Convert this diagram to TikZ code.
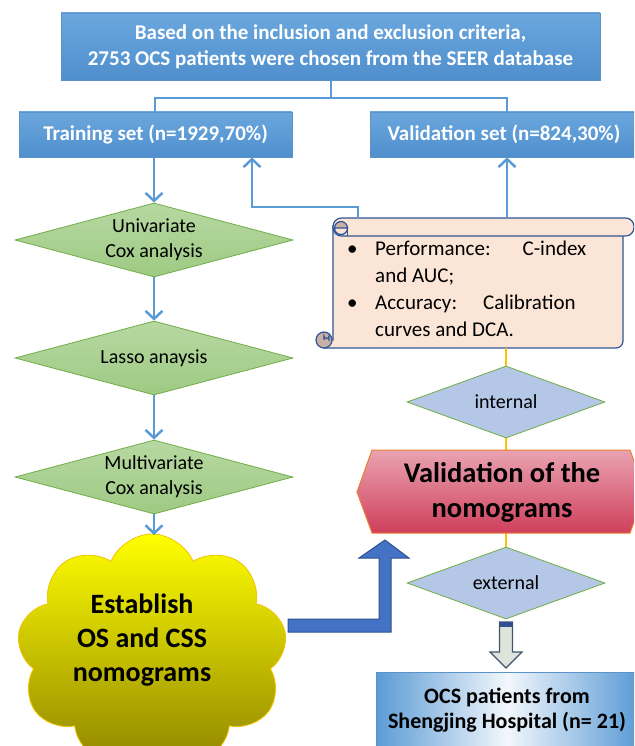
\documentclass[tikz,border=0pt]{standalone}
\usepackage{fontspec}
\setmainfont{Carlito}
\usetikzlibrary{shapes.geometric,shapes.symbols,arrows.meta,calc}
\definecolor{blueT}{HTML}{6BA7DE}
\definecolor{blueB}{HTML}{4F8FCD}
\definecolor{boxedge}{HTML}{5B93C9}
\definecolor{lineblue}{HTML}{5B9BD5}
\definecolor{gT}{HTML}{B7D8A2}
\definecolor{gB}{HTML}{9ECA83}
\definecolor{gborder}{HTML}{70AD47}
\definecolor{peach}{HTML}{FBE5D6}
\definecolor{scrolledge}{HTML}{2F5597}
\definecolor{curl}{HTML}{C8B0A2}
\definecolor{ldiam}{HTML}{B4C7E7}
\definecolor{orangeline}{HTML}{FFC000}
\definecolor{hexT}{HTML}{E9A3B0}
\definecolor{hexB}{HTML}{CF3F5C}
\definecolor{hexedge}{HTML}{ED7D31}
\definecolor{cloudT}{HTML}{FFFF00}
\definecolor{cloudB}{HTML}{8F8400}
\definecolor{cloudedge}{HTML}{F2C200}
\definecolor{bigarrow}{HTML}{4472C4}
\definecolor{bigarrowedge}{HTML}{2F528F}
\definecolor{hollowfill}{HTML}{DCE4DC}
\definecolor{hollowedge}{HTML}{44546A}
\definecolor{botmid}{HTML}{F2F7FC}
\tikzset{
  bluebox/.style={draw=boxedge, line width=0.8pt, top color=blueT, bottom color=blueB,
    text=white, font=\bfseries\fontsize{21}{26}\selectfont, align=center, inner sep=0},
  conn/.style={draw=lineblue, line width=2.5pt},
  tipv/.style={-{Straight Barb[length=8pt,width=17pt]}},
  gdiam/.style={diamond, aspect=3.76, draw=gborder, line width=0.8pt, top color=gT, bottom color=gB,
    minimum width=278, minimum height=74, inner sep=0, align=center,
    font=\fontsize{20}{25}\selectfont},
  bdiam/.style={diamond, aspect=2.75, draw=gborder, line width=0.8pt, fill=ldiam,
    minimum width=198, minimum height=72, inner sep=0, align=center,
    font=\fontsize{20}{25}\selectfont},
  oline/.style={draw=orangeline, line width=2.5pt},
  scrollline/.style={draw=scrolledge, line width=1.2pt},
  scrolltext/.style={anchor=base west, inner sep=0, font=\fontsize{21}{27}\selectfont},
}
\begin{document}
\begin{tikzpicture}[x=1pt,y=-1pt]
\useasboundingbox (0,0) rectangle (634,746);
\clip (0,0) rectangle (634,746);

% top boxes
\node[bluebox, minimum width=539, minimum height=67] (top) at (330.5,46.5)
  {Based on the inclusion and exclusion criteria,\\2753 OCS patients were chosen from the SEER database};
\node[bluebox, minimum width=273, minimum height=45] (train) at (155.5,134.5) {Training set (n=1929,70\%)};
\node[bluebox, minimum width=268, minimum height=45] (val) at (504,134.5) {Validation set (n=824,30\%)};

\coordinate (split) at (331,98);
\draw[conn] (top.south -| split) -- (split);
\draw[conn] (split) -| (train.north -| 155,0);
\draw[conn] (split) -| (val.north -| 507,0);

% left column
\node[gdiam] (d1) at (154,240) {Univariate\\Cox analysis};
\node[gdiam] (d2) at (154,358) {Lasso anaysis};
\node[gdiam] (d3) at (154,477) {Multivariate\\Cox analysis};

\draw[conn,tipv] (train.south -| d1.north) -- (d1.north);
\draw[conn,tipv] (d1.south) -- (d2.north);
\draw[conn,tipv] (d2.south) -- (d3.north);

% cloud
\node[cloud, cloud puffs=9, cloud puff arc=135, cloud ignores aspect,
      minimum width=270, minimum height=236, draw=cloudedge, line width=0.8pt,
      top color=cloudT, bottom color=cloudB, inner sep=0] (cloud) at (152,652) {};
\node[font=\bfseries\fontsize{28}{34}\selectfont, align=center, inner sep=0] (cloudtext) at (142,640)
  {Establish\\OS and CSS\\nomograms};
\draw[conn,tipv] (d3.south) -- (d3.south |- 0,535);

% scroll
\node[inner sep=0, minimum width=290, minimum height=130] (scroll) at (478,283) {};
\draw[scrollline, fill=peach] (333,226) [rounded corners=7] -- (623,226) -- (623,348)
  [sharp corners] -- (324,348) -- (324,340) -- (333,340) -- cycle;
\draw[scrollline, fill=curl] (324,340) circle (8);
\draw[scrollline] (324,340) -- (324,336) arc (180:0:2.5) -- (329,341);
\draw[scrollline, fill=peach, rounded corners=8.5] (333,218) rectangle (634,236);
\draw[scrollline, fill=curl] (341,228) circle (6.5);
\draw[scrollline, fill=peach] (334.5,228) arc (180:0:6.5) -- cycle;
\draw[scrollline] (347.5,228) -- (347.5,236);
\node[scrolltext] (l1) at (347,255) {\makebox[28pt][l]{\textbullet}Performance:\hspace{32pt}C-index};
\node[scrolltext] (l2) at (375,282) {and AUC;};
\node[scrolltext] (l3) at (347,309) {\makebox[28pt][l]{\textbullet}Accuracy:\hspace{26pt}Calibration};
\node[scrolltext] (l4) at (375,336) {curves and DCA.};

\draw[conn,tipv] ([xshift=25pt]scroll.north west) -- ++(0,-11) -| (train.south -| 252,0);
\draw[conn,tipv] (scroll.north -| 507,0) -- (val.south -| 507,0);

% right column
\node[bdiam] (int) at (506,402) {internal};
\coordinate (hextop) at (506,450);
\coordinate (hexbot) at (506,533);
\node[bdiam] (ext) at (506,583) {external};

\draw[oline] (scroll.south -| int.north) -- (int.north);
\draw[oline] (int.south) -- (hextop);
\draw[oline] (hexbot) -- (ext.north);

\path[draw=hexedge, line width=1pt, top color=hexT, bottom color=hexB]
  (357,492) -- (372,450) -- (630,450) -- (645,492) -- (630,533) -- (372,533) -- cycle;
\node[font=\bfseries\fontsize{28.5}{35}\selectfont, align=center, inner sep=0] (hex) at (502,492)
  {Validation of the\\nomograms};

% big bent arrow
\path[draw=bigarrowedge, line width=1pt, fill=bigarrow]
  (288,619) -- (379,619) -- (379,558) -- (359,558) -- (385,540) -- (409,558)
  -- (391,558) -- (391,632) -- (288,632) -- cycle;

% hollow arrow
\path[draw=hollowedge, line width=1.2pt, fill=hollowfill]
  (499.5,622) -- (512.5,622) -- (512.5,652) -- (522,652) -- (506,668) -- (490,652)
  -- (499.5,652) -- cycle;
\fill[bigarrowedge] (499.5,621.5) rectangle (512.5,627);

% bottom box
\node[draw=boxedge, line width=0.8pt, left color=lineblue, right color=lineblue, middle color=botmid,
      minimum width=262, minimum height=76, inner sep=0, align=center,
      font=\bfseries\fontsize{22}{25}\selectfont] (hosp) at (507,710)
  {OCS patients from\\Shengjing Hospital (n= 21)};
\end{tikzpicture}
\end{document}
